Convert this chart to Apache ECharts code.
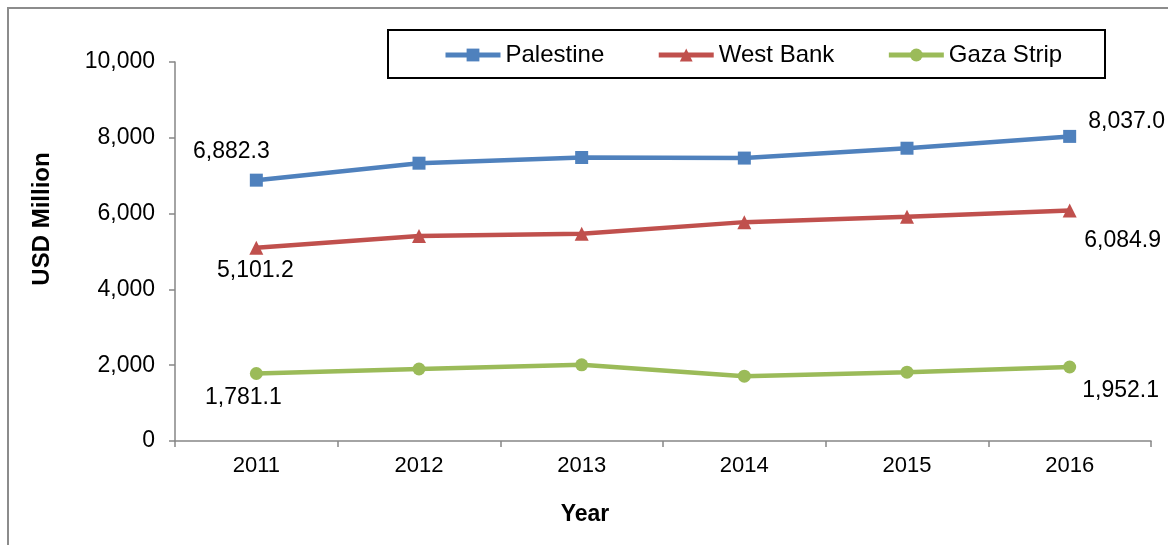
<!DOCTYPE html>
<html>
<head>
<meta charset="utf-8">
<script src="https://cdn.jsdelivr.net/npm/echarts@6/dist/echarts.min.js"></script>
<style>
html,body{margin:0;padding:0;background:#fff;}
#chart{width:1168px;height:545px;}
</style>
</head>
<body>
<div id="chart"></div>
<script>
const years = ['2011','2012','2013','2014','2015','2016'];
const palestine = [6882.3, 7330, 7480, 7465, 7725, 8037.0];
const westBank = [5101.2, 5410, 5470, 5775, 5920, 6084.9];
const gaza = [1781.1, 1900, 2010, 1710, 1815, 1952.1];
const yTicks = [0, 2000, 4000, 6000, 8000, 10000];

const FONT = 'Liberation Sans, Arial, sans-serif';
const fmt = v => v.toLocaleString('en-US', {minimumFractionDigits:1, maximumFractionDigits:1});

function withLabels(values, firstOffset, lastOffset) {
  return values.map((v, i) => {
    if (i === 0 || i === values.length - 1) {
      return {
        value: v,
        label: {
          show: true,
          position: 'inside',
          offset: i === 0 ? firstOffset : lastOffset,
          formatter: p => fmt(p.value),
          color: '#000',
          fontFamily: FONT,
          fontSize: 23
        }
      };
    }
    return v;
  });
}

const chart = echarts.init(document.getElementById('chart'), null, {renderer: 'canvas'});
chart.setOption({
  animation: false,
  backgroundColor: '#fff',
  grid: {left: 175, right: 17, top: 62, bottom: 104, containLabel: false},
  legend: {
    left: 438, top: 38,
    itemWidth: 55, itemHeight: 16, itemGap: 52,
    lineStyle: {width: 5},
    textStyle: {fontFamily: FONT, fontSize: 24, color: '#000'},
    data: ['Palestine', 'West Bank', 'Gaza Strip']
  },
  xAxis: {
    type: 'category',
    data: years,
    boundaryGap: true,
    axisLine: {lineStyle: {color: '#868686', width: 1.5}},
    axisTick: {show: true, length: 6, lineStyle: {color: '#868686', width: 1.5}},
    axisLabel: {fontFamily: FONT, fontSize: 22, color: '#000', margin: 14},
    splitLine: {show: false}
  },
  yAxis: {
    type: 'value',
    min: 0, max: 10000, interval: 2000,
    axisLine: {show: true, lineStyle: {color: '#868686', width: 1.5}},
    axisTick: {show: true, length: 6, lineStyle: {color: '#868686', width: 1.5}},
    axisLabel: {fontFamily: FONT, fontSize: 23, color: '#000', margin: 20,
      formatter: v => v.toLocaleString('en-US')},
    splitLine: {show: false}
  },
  graphic: [
    {type: 'rect', shape: {x: 8, y: 8, width: 1200, height: 600},
      style: {fill: 'none', stroke: '#8c8c8c', lineWidth: 2}, silent: true, z: -10},
    {type: 'rect', shape: {x: 388, y: 30, width: 717, height: 48},
      style: {fill: 'none', stroke: '#000', lineWidth: 2}, silent: true, z: -5},
    {type: 'text', x: 42, y: 219, rotation: Math.PI / 2,
      style: {text: 'USD Million', font: 'bold 24px ' + FONT, fill: '#000',
        textAlign: 'center', textVerticalAlign: 'middle'}},
    {type: 'text', x: 585, y: 515,
      style: {text: 'Year', font: 'bold 23px ' + FONT, fill: '#000',
        textAlign: 'center', textVerticalAlign: 'middle'}}
  ],
  series: [
    {
      name: 'Palestine', type: 'line',
      data: withLabels(palestine, [-25, -29], [57, -15]),
      symbol: 'rect', symbolSize: 13,
      lineStyle: {width: 4.5, color: '#4F81BD'},
      itemStyle: {color: '#4F81BD'}
    },
    {
      name: 'West Bank', type: 'line',
      data: withLabels(westBank, [-1, 23], [53, 30]),
      symbol: 'triangle', symbolSize: 14,
      lineStyle: {width: 4.5, color: '#C0504D'},
      itemStyle: {color: '#C0504D'}
    },
    {
      name: 'Gaza Strip', type: 'line',
      data: withLabels(gaza, [-13, 24], [51, 24]),
      symbol: 'circle', symbolSize: 13,
      lineStyle: {width: 4.5, color: '#9BBB59'},
      itemStyle: {color: '#9BBB59'}
    }
  ]
});
</script>
</body>
</html>
